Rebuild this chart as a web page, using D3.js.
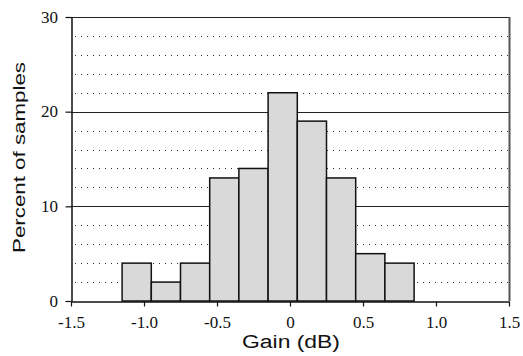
<!DOCTYPE html>
<html><head><meta charset="utf-8">
<script src="https://cdn.jsdelivr.net/npm/d3@7"></script>
<style>body{margin:0;background:#fff}</style>
</head><body>
<svg id="c" width="523" height="356"></svg>
<script>
const binStarts = [-1.15,-0.95,-0.75,-0.55,-0.35,-0.15,0.05,0.25,0.45,0.65];
const binWidth = 0.2;
const percents = [4,2,4,13,14,22,19,13,5,4];
const xTicks = [-1.5,-1.0,-0.5,0,0.5,1.0,1.5];
const xTickLabels = ["-1.5","-1.0","-0.5","0","0.5","1.0","1.5"];
const yTicks = [0,10,20,30];
const yMinor = [2,4,6,8,12,14,16,18,22,24,26,28];

const svg = d3.select("#c");
const L=71, R=509, T=17, B=301;
const x = d3.scaleLinear().domain([-1.5,1.5]).range([L,R]);
const y = d3.scaleLinear().domain([0,30]).range([B,T]);
const serif = "'Liberation Serif', 'Times New Roman', Times, serif";
const sans = "'Liberation Sans', Arial, Helvetica, sans-serif";

// minor dotted grid
svg.append("g").selectAll("line").data(yMinor).join("line")
  .attr("x1",L+4).attr("x2",R).attr("y1",d=>Math.round(y(d))+0.5).attr("y2",d=>Math.round(y(d))+0.5)
  .attr("stroke","#333").attr("stroke-width",1).attr("stroke-dasharray","1,5");
// major grid
svg.append("g").selectAll("line").data([10,20,30]).join("line")
  .attr("x1",L).attr("x2",R).attr("y1",d=>Math.round(y(d))+0.5).attr("y2",d=>Math.round(y(d))+0.5)
  .attr("stroke","#222").attr("stroke-width",1.2);

// bars
svg.append("g").selectAll("rect").data(percents).join("rect")
  .attr("x",(d,i)=>x(binStarts[i]))
  .attr("width",(d,i)=>x(binStarts[i]+binWidth)-x(binStarts[i]))
  .attr("y",d=>y(d)).attr("height",d=>y(0)-y(d))
  .attr("fill","#d9d9d9").attr("stroke","#111").attr("stroke-width",1.5);

// right border
svg.append("line").attr("x1",R+0.5).attr("x2",R+0.5).attr("y1",T).attr("y2",B)
  .attr("stroke","#555").attr("stroke-width",2);

// axes
const xa = svg.append("g").attr("transform",`translate(0,${B+0.5})`)
  .call(d3.axisBottom(x).tickValues(xTicks).tickFormat((d,i)=>xTickLabels[i]).tickSize(5).tickSizeOuter(0));
const ya = svg.append("g").attr("transform",`translate(${L+0.5},0)`)
  .call(d3.axisLeft(y).tickValues(yTicks).tickSize(6).tickSizeOuter(0));
[xa,ya].forEach(a=>{
  a.attr("font-family",null).attr("font-size",null);
  a.select(".domain").attr("stroke","#111").attr("stroke-width",1.5);
  a.selectAll(".tick line").attr("stroke","#111").attr("stroke-width",1.2);
  a.selectAll(".tick text").style("font-family",serif).style("font-size","17px").attr("fill","#111");
});
xa.selectAll(".tick text").attr("y",14).attr("dy","0.71em");
ya.selectAll(".tick text").attr("x",-13.5).attr("dy","0.3em");

svg.append("text").attr("x",291).attr("y",348).attr("text-anchor","middle")
  .style("font-family",sans).style("font-size","18px").attr("fill","#111")
  .attr("textLength",98).attr("lengthAdjust","spacingAndGlyphs")
  .text("Gain (dB)");
svg.append("text").attr("transform","translate(25,157.5) rotate(-90)").attr("text-anchor","middle")
  .style("font-family",sans).style("font-size","17px").attr("fill","#111")
  .attr("textLength",191).attr("lengthAdjust","spacingAndGlyphs")
  .text("Percent of samples");
</script>
</body></html>
